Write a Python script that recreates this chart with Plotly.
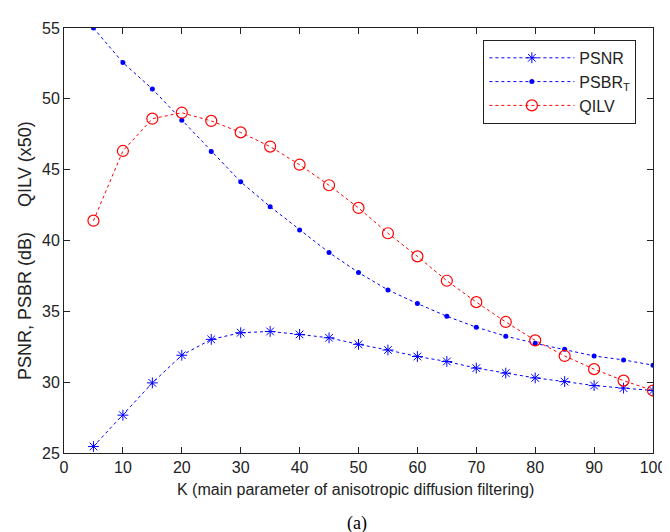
import plotly.graph_objects as go

K = [5, 10, 15, 20, 25, 30, 35, 40, 45, 50, 55, 60, 65, 70, 75, 80, 85, 90, 95, 100]
psnr = [25.46, 27.67, 29.95, 31.9, 33.02, 33.49, 33.58, 33.37, 33.13, 32.67,
        32.27, 31.81, 31.46, 30.99, 30.64, 30.3, 30.04, 29.76, 29.58, 29.41]
psbr_t = [55.0, 52.56, 50.7, 48.49, 46.28, 44.14, 42.39, 40.75, 39.15, 37.74,
          36.51, 35.55, 34.65, 33.88, 33.25, 32.74, 32.32, 31.85, 31.57, 31.2]
qilv = [41.4, 46.32, 48.6, 49.02, 48.44, 47.63, 46.63, 45.35, 43.9, 42.3,
        40.51, 38.88, 37.16, 35.65, 34.25, 32.95, 31.85, 30.92, 30.11, 29.41]

x_ticks = [0, 10, 20, 30, 40, 50, 60, 70, 80, 90, 100]
y_ticks = [25, 30, 35, 40, 45, 50, 55]

BLUE = "#0000ff"
RED = "#ff0000"
DASH = "3px,3px"
SANS = "Liberation Sans, Arial, sans-serif"
INK = "#222222"

fig = go.Figure()
fig.add_trace(go.Scatter(
    x=K, y=psnr, name="PSNR", mode="lines+markers",
    line=dict(color=BLUE, width=1, dash=DASH),
    marker=dict(symbol="asterisk-open", size=9, color=BLUE, line=dict(color=BLUE, width=1)),
))
fig.add_trace(go.Scatter(
    x=K, y=psbr_t, name="PSBR<sub>T</sub>", mode="lines+markers",
    line=dict(color=BLUE, width=1, dash=DASH),
    marker=dict(symbol="circle", size=5, color=BLUE),
))
fig.add_trace(go.Scatter(
    x=K, y=qilv, name="QILV", mode="lines+markers",
    line=dict(color=RED, width=1, dash=DASH),
    marker=dict(symbol="circle-open", size=11, color=RED, line=dict(color=RED, width=1.2)),
))

axis_common = dict(
    showgrid=False, zeroline=False, showline=True, linecolor=INK, linewidth=1,
    mirror="ticks", ticks="inside", ticklen=6, tickcolor=INK,
    tickfont=dict(family=SANS, size=16, color=INK),
)

fig.update_xaxes(range=[0, 100], tickvals=x_ticks, ticktext=[str(v) for v in x_ticks], **axis_common)
fig.update_yaxes(range=[25, 55], tickvals=y_ticks, ticktext=[str(v) for v in y_ticks], **axis_common)

fig.add_annotation(
    text="K (main parameter of anisotropic diffusion filtering)",
    xref="paper", yref="paper", x=0.495, y=-0.086,
    xanchor="center", yanchor="middle", showarrow=False,
    font=dict(family=SANS, size=16, color=INK),
)
fig.add_annotation(
    text="PSNR, PSBR (dB)\u00a0\u00a0\u00a0\u00a0\u00a0QILV (x50)",
    xref="paper", yref="paper", x=-0.065, y=0.477, textangle=-90,
    xanchor="center", yanchor="middle", showarrow=False,
    font=dict(family=SANS, size=18, color=INK),
)
fig.add_annotation(
    text="(a)", xref="paper", yref="paper", x=0.497, y=-0.167,
    xanchor="center", yanchor="middle", showarrow=False,
    font=dict(family="Liberation Serif, Times New Roman, serif", size=18, color="black"),
)

fig.update_layout(
    width=670, height=532,
    margin=dict(l=56, r=14, t=15, b=87),
    paper_bgcolor="white", plot_bgcolor="white",
    showlegend=True,
    legend=dict(
        x=0.712, y=0.972, xanchor="left", yanchor="top",
        bordercolor=INK, borderwidth=1, bgcolor="white",
        font=dict(family=SANS, size=16, color=INK),
        itemwidth=85, tracegroupgap=0,
    ),
)

fig.write_html("out.html")
